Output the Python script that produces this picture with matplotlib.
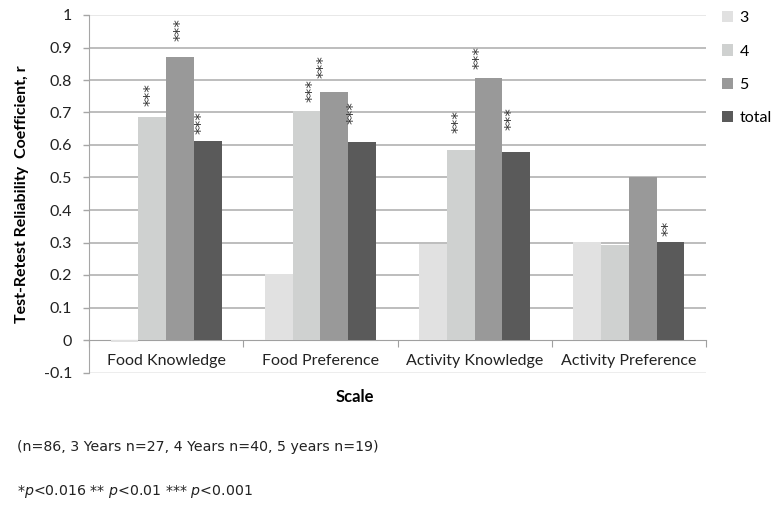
import numpy as np
import matplotlib
matplotlib.use('Agg')
import matplotlib.pyplot as plt
from matplotlib.ticker import FixedLocator, NullFormatter

plt.rcParams['font.family'] = ['Lato', 'DejaVu Sans']

scales = ['Food Knowledge', 'Food Preference', 'Activity Knowledge', 'Activity Preference']
groups = ['3', '4', '5', 'total']
r_age3 = [-0.005, 0.202, 0.294, 0.302]
r_age4 = [0.687, 0.706, 0.585, 0.291]
r_age5 = [0.870, 0.764, 0.805, 0.502]
r_total = [0.611, 0.608, 0.578, 0.302]
# significance marks, one row per scale, one column per group
stars = [['', '***', '***', '***'],
         ['', '***', '***', '***'],
         ['', '***', '***', '***'],
         ['', '', '', '**']]

colors = ['#e1e1e1', '#cfd1d0', '#999999', '#5a5a5a']
# hand nudges for the star labels (points)
star_dx = [[0, -1, 1, -4], [0, 5, -7, -6], [0, -1, -6, -3], [0, 0, 0, -1]]
star_dy = [[0, 8, 12, 5], [0, 6, 10, 13], [0, 12, 7, 16], [0, 0, 0, 4]]

series = [r_age3, r_age4, r_age5, r_total]
x = np.arange(len(scales))
w = 0.18

fig = plt.figure(figsize=(7.71, 5.05), dpi=100)
ax = fig.add_axes([89 / 771, 1 - 372.5 / 505, (706 - 89) / 771, (372.5 - 15) / 505])

for k, vals in enumerate(series):
    pos = x + (k - 1.5) * w
    ax.bar(pos, vals, width=w, color=colors[k], label=groups[k], zorder=3)
    for i, v in enumerate(vals):
        s = stars[i][k]
        if s:
            ax.annotate(s, xy=(pos[i], v), xytext=(star_dx[i][k], star_dy[i][k]),
                        textcoords='offset points', ha='center', va='bottom',
                        rotation=90, fontsize=11, family='DejaVu Sans', color='#333333')

ax.set_xlim(-0.5, len(scales) - 0.5)
ax.set_ylim(-0.1, 1.0)
ax.set_yticks(np.arange(-0.1, 1.01, 0.1))
ax.set_yticklabels(['-0.1', '0', '0.1', '0.2', '0.3', '0.4', '0.5', '0.6', '0.7', '0.8', '0.9', '1'])
ax.tick_params(axis='y', length=4, width=1, color='#a6a6a6', pad=8, labelsize=11.5, labelcolor='#222222')

ax.yaxis.grid(True, color='#b8b8b8', linewidth=1.3, zorder=0)
gl = ax.get_ygridlines()
gl[0].set_color('#ececec')
gl[-1].set_color('#e6e6e6')
gl[1].set_visible(False)
ax.set_axisbelow(True)

# category axis crosses at zero, ticks between groups
ax.spines['bottom'].set_position(('data', 0))
ax.spines['bottom'].set_color('#a0a0a0')
ax.spines['left'].set_color('#a6a6a6')
ax.spines['top'].set_visible(False)
ax.spines['right'].set_visible(False)
ax.xaxis.set_major_locator(FixedLocator(np.arange(-0.5, len(scales), 1.0)))
ax.xaxis.set_major_formatter(NullFormatter())
ax.xaxis.set_minor_locator(FixedLocator(x))
ax.set_xticklabels(scales, minor=True)
ax.tick_params(axis='x', which='major', direction='out', length=5, color='#a0a0a0')
ax.tick_params(axis='x', which='minor', length=0, pad=10, labelsize=11.5, labelcolor='#222222')

ax.set_ylabel('Test-Retest Reliability  Coefficient, r', fontsize=11.5, fontweight='bold', labelpad=11)
fig.text(355 / 771, 1 - 397 / 505, 'Scale', ha='center', va='center', fontsize=12, fontweight='bold')

fig.legend(loc='upper left', bbox_to_anchor=(722 / 771, 1 - 11 / 505), frameon=False,
           fontsize=11.5, handlelength=0.7, handleheight=0.7, handletextpad=0.4,
           labelspacing=1.2, borderaxespad=0, borderpad=0)

fig.text(17 / 771, 1 - 447 / 505, '(n=86, 3 Years n=27, 4 Years n=40, 5 years n=19)',
         va='center', fontsize=10.2, family='DejaVu Sans', color='#222222')
fig.text(17 / 771, 1 - 492 / 505, r'*$\it{p}$<0.016 ** $\it{p}$<0.01 *** $\it{p}$<0.001',
         va='center', fontsize=10.2, family='DejaVu Sans', color='#222222')

fig.savefig('out.png', dpi=100)
